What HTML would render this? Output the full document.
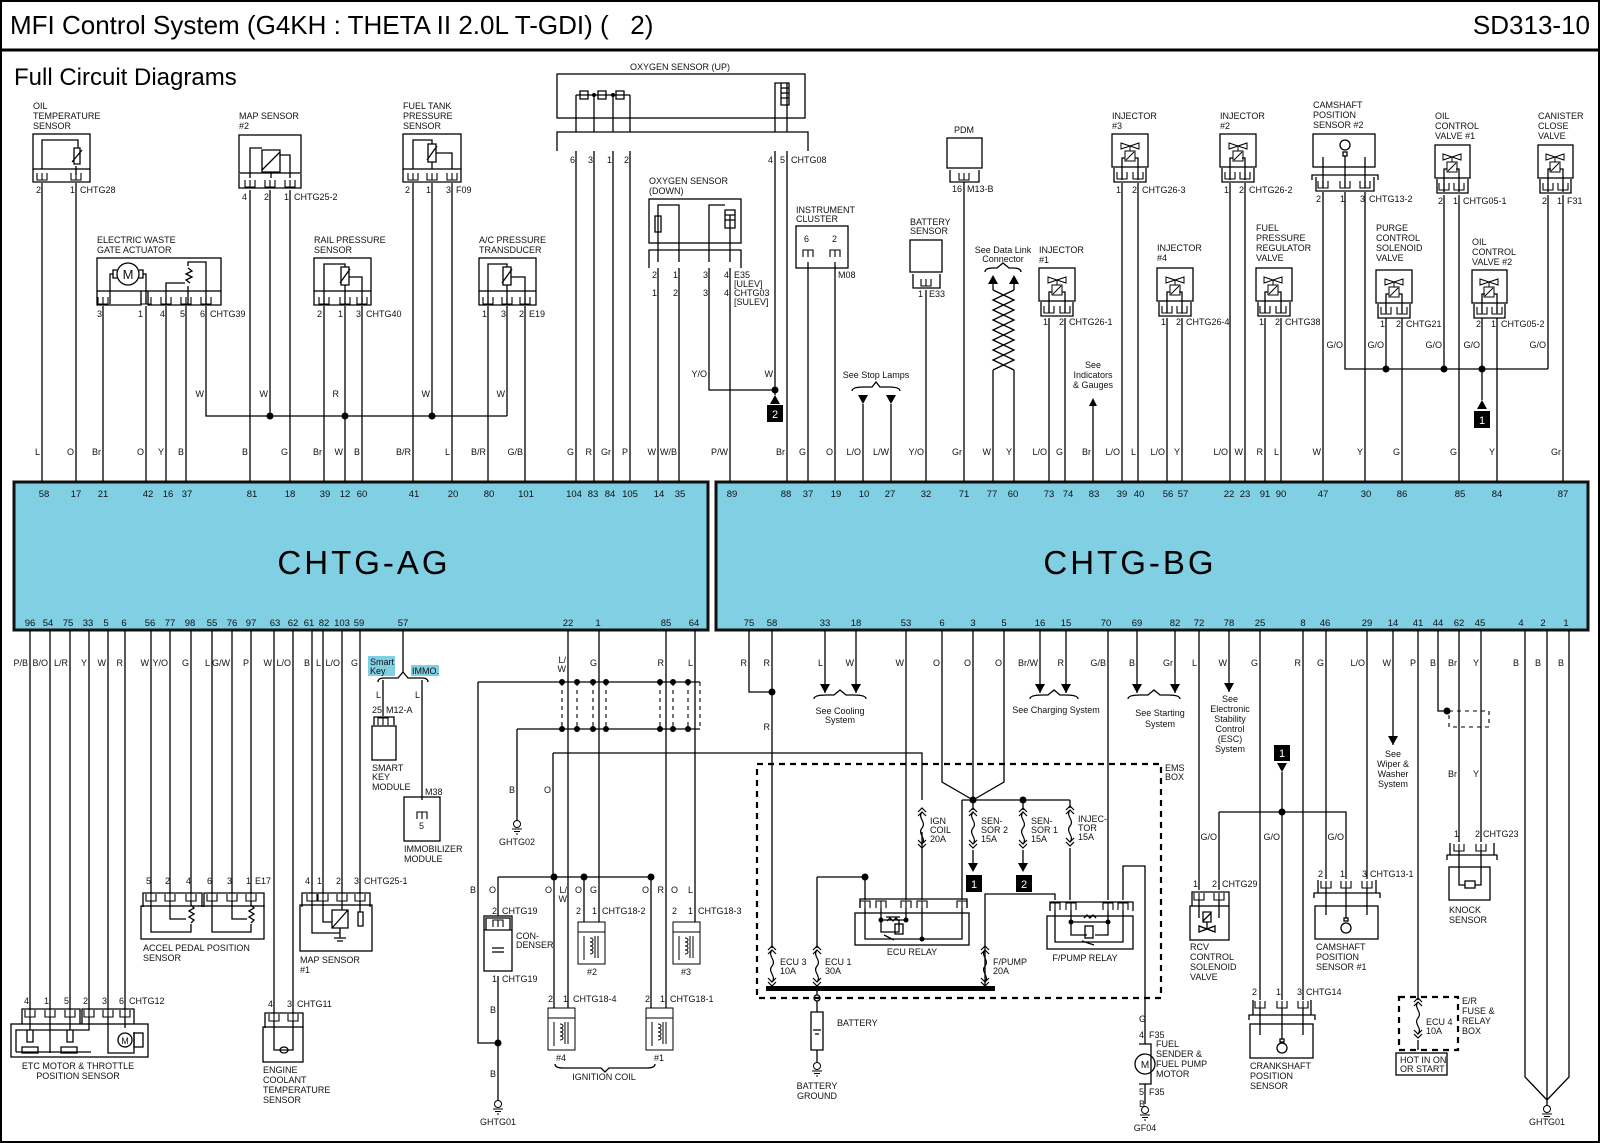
<!DOCTYPE html>
<html><head><meta charset="utf-8">
<style>
html,body{margin:0;padding:0;background:#fff;}
svg{display:block;font-family:"Liberation Sans",sans-serif;}
.w{stroke:#000;stroke-width:1.3;fill:none;}
.t{font-size:9px;fill:#111;}
.l{font-size:9.5px;fill:#111;}
.d{stroke:#000;stroke-width:2.2;fill:none;stroke-dasharray:6 5;}
.ds{stroke:#000;stroke-width:1.1;fill:none;stroke-dasharray:4 4;}
</style></head><body>
<svg width="1600" height="1143" viewBox="0 0 1600 1143" xmlns="http://www.w3.org/2000/svg">
<defs>
<symbol id="p" overflow="visible"><path d="M-5 0v7h10v-7M0 7v-7" stroke="#000" stroke-width="1.1" fill="none"/></symbol>
<symbol id="pu" overflow="visible"><path d="M-5 7v-7h10v7M0 0v7" stroke="#000" stroke-width="1.1" fill="none"/></symbol>
<symbol id="v" overflow="visible"><path d="M-9 -8l18 6v-6l-18 6z" stroke="#000" stroke-width="1" fill="none"/><path d="M0 -5v5" stroke="#000" fill="none"/><rect x="-5" y="0" width="10" height="10" stroke="#000" fill="none"/><path d="M-4 9l8-8" stroke="#000"/></symbol>
<symbol id="g" overflow="visible"><circle cx="0" cy="0" r="3.5" stroke="#000" fill="none"/><path d="M-5 5h10M-3 7.5h6M-1 10h2" stroke="#000"/></symbol>
<symbol id="f" overflow="visible"><path d="M-4 0l4-4 4 4M-4 4l4-4 4 4M0 0c-5 6 5 10 0 16c-5 6 5 10 0 16M-4 28l4 4 4-4M-4 32l4 4 4-4" stroke="#000" stroke-width="1.2" fill="none"/></symbol>
<symbol id="coil" overflow="visible"><rect x="0" y="0" width="27" height="42" stroke="#000" fill="none"/><path d="M0 10h27M6 14v24M12 16c4 0 4 4 0 4c4 0 4 4 0 4c4 0 4 4 0 4c4 0 4 4 0 4M17 14v22M20 14v22" stroke="#000" fill="none"/></symbol>
</defs>
<rect x="1" y="1" width="1598" height="1141" fill="none" stroke="#000" stroke-width="2"/>
<line x1="0" y1="50" x2="1600" y2="50" stroke="#000" stroke-width="3"/>
<text x="10" y="34" font-size="26">MFI Control System (G4KH : THETA II 2.0L T-GDI) (&#160;&#160;&#160;2)</text>
<text x="1590" y="34" font-size="26" text-anchor="end">SD313-10</text>
<text x="14" y="85" font-size="24">Full Circuit Diagrams</text>

<rect x="14" y="482" width="694" height="148" fill="#80cfe3" stroke="#111" stroke-width="3"/>
<rect x="716" y="482" width="872" height="148" fill="#80cfe3" stroke="#111" stroke-width="3"/>
<text x="364" y="574" font-size="33" text-anchor="middle" letter-spacing="3">CHTG-AG</text>
<text x="1130" y="574" font-size="33" text-anchor="middle" letter-spacing="3">CHTG-BG</text>

<g class="l" text-anchor="middle" font-size="10">
<text x="44" y="497">58</text><text x="76" y="497">17</text><text x="103" y="497">21</text><text x="148" y="497">42</text><text x="168" y="497">16</text><text x="187" y="497">37</text><text x="252" y="497">81</text><text x="290" y="497">18</text><text x="325" y="497">39</text><text x="345" y="497">12</text><text x="362" y="497">60</text><text x="414" y="497">41</text><text x="453" y="497">20</text><text x="489" y="497">80</text><text x="526" y="497">101</text><text x="574" y="497">104</text><text x="593" y="497">83</text><text x="610" y="497">84</text><text x="630" y="497">105</text><text x="659" y="497">14</text><text x="680" y="497">35</text>
<text x="732" y="497">89</text><text x="786" y="497">88</text><text x="808" y="497">37</text><text x="836" y="497">19</text><text x="864" y="497">10</text><text x="890" y="497">27</text><text x="926" y="497">32</text><text x="964" y="497">71</text><text x="992" y="497">77</text><text x="1013" y="497">60</text><text x="1049" y="497">73</text><text x="1068" y="497">74</text><text x="1094" y="497">83</text><text x="1122" y="497">39</text><text x="1139" y="497">40</text><text x="1168" y="497">56</text><text x="1183" y="497">57</text><text x="1229" y="497">22</text><text x="1245" y="497">23</text><text x="1265" y="497">91</text><text x="1281" y="497">90</text><text x="1323" y="497">47</text><text x="1366" y="497">30</text><text x="1402" y="497">86</text><text x="1460" y="497">85</text><text x="1497" y="497">84</text><text x="1563" y="497">87</text>
</g>
<g class="l" text-anchor="middle" font-size="10">
<text x="30" y="626">96</text><text x="48" y="626">54</text><text x="68" y="626">75</text><text x="88" y="626">33</text><text x="106" y="626">5</text><text x="124" y="626">6</text><text x="150" y="626">56</text><text x="170" y="626">77</text><text x="190" y="626">98</text><text x="212" y="626">55</text><text x="232" y="626">76</text><text x="251" y="626">97</text><text x="275" y="626">63</text><text x="293" y="626">62</text><text x="309" y="626">61</text><text x="324" y="626">82</text><text x="342" y="626">103</text><text x="359" y="626">59</text><text x="403" y="626">57</text><text x="568" y="626">22</text><text x="598" y="626">1</text><text x="666" y="626">85</text><text x="694" y="626">64</text>
<text x="749" y="626">75</text><text x="772" y="626">58</text><text x="825" y="626">33</text><text x="856" y="626">18</text><text x="906" y="626">53</text><text x="942" y="626">6</text><text x="973" y="626">3</text><text x="1004" y="626">5</text><text x="1040" y="626">16</text><text x="1066" y="626">15</text><text x="1106" y="626">70</text><text x="1137" y="626">69</text><text x="1175" y="626">82</text><text x="1199" y="626">72</text><text x="1229" y="626">78</text><text x="1260" y="626">25</text><text x="1303" y="626">8</text><text x="1325" y="626">46</text><text x="1367" y="626">29</text><text x="1393" y="626">14</text><text x="1418" y="626">41</text><text x="1438" y="626">44</text><text x="1459" y="626">62</text><text x="1480" y="626">45</text><text x="1521" y="626">4</text><text x="1543" y="626">2</text><text x="1566" y="626">1</text>
</g>

<path class="w" d="M42 183V482M76 183V482M103 306V482M146 306V482M166 306V482M186 306V482M206 306V416H507M250 190V482M270 190V416M290 190V482M324 306V482M345 306V482M362 306V482M413 183V482M432 183V416M452 183V482M488 306V482M507 306V416M525 306V482
M576 151V482M594 151V482M613 151V482M630 151V482M658 268V482M679 268V482M709 268V390H775M730 268V482M775 151V395M787 151V482
M808 262V482M835 262V482M863 404V482M891 404V482M926 290V482M964 182V482M993 375V482M1014 375V482M993 284V290M1014 284V290M1049 318V482M1065 318V482M1093 400V482M1122 183V482M1138 183V482M1167 318V482M1182 318V482M1230 183V482M1245 183V482M1265 318V482M1281 318V482M1323 192V482M1345 192V369H1548M1365 192V482M1386 318V369M1402 318V482M1444 195V369M1459 195V482M1482 318V400M1497 318V482M1548 195V369M1563 195V482"/>
<g fill="#000"><circle cx="270" cy="416" r="3.5"/><circle cx="345" cy="416" r="3.5"/><circle cx="432" cy="416" r="3.5"/><circle cx="775" cy="390" r="3.5"/><circle cx="1386" cy="369" r="3.5"/><circle cx="1444" cy="369" r="3.5"/><circle cx="1482" cy="369" r="3.5"/>
<path d="M775 395l-5 9h10z"/><rect x="767" y="405" width="16" height="17"/><path d="M1482 400l-5 9h10z"/><rect x="1474" y="411" width="16" height="17"/>
<path d="M863 404l-5-9h10zM891 404l-5-9h10zM993 275l-5 9h10zM1014 275l-5 9h10zM1093 398l-4 8h8z"/></g>
<text x="775" y="418" font-size="11" fill="#fff" text-anchor="middle">2</text>
<text x="1482" y="424" font-size="11" fill="#fff" text-anchor="middle">1</text>

<g class="t" text-anchor="end">
<text x="40" y="455">L</text><text x="74" y="455">O</text><text x="101" y="455">Br</text><text x="144" y="455">O</text><text x="164" y="455">Y</text><text x="184" y="455">B</text><text x="248" y="455">B</text><text x="288" y="455">G</text><text x="322" y="455">Br</text><text x="343" y="455">W</text><text x="360" y="455">B</text><text x="411" y="455">B/R</text><text x="450" y="455">L</text><text x="486" y="455">B/R</text><text x="523" y="455">G/B</text>
<text x="204" y="397">W</text><text x="268" y="397">W</text><text x="339" y="397">R</text><text x="430" y="397">W</text><text x="505" y="397">W</text>
<text x="574" y="455">G</text><text x="592" y="455">R</text><text x="611" y="455">Gr</text><text x="628" y="455">P</text><text x="656" y="455">W</text><text x="677" y="455">W/B</text><text x="728" y="455">P/W</text><text x="785" y="455">Br</text><text x="806" y="455">G</text><text x="833" y="455">O</text><text x="861" y="455">L/O</text><text x="889" y="455">L/W</text><text x="924" y="455">Y/O</text><text x="962" y="455">Gr</text><text x="991" y="455">W</text><text x="1012" y="455">Y</text><text x="1047" y="455">L/O</text><text x="1063" y="455">G</text><text x="1091" y="455">Br</text><text x="1120" y="455">L/O</text><text x="1136" y="455">L</text><text x="1165" y="455">L/O</text><text x="1180" y="455">Y</text><text x="1228" y="455">L/O</text><text x="1243" y="455">W</text><text x="1263" y="455">R</text><text x="1279" y="455">L</text><text x="1321" y="455">W</text><text x="1363" y="455">Y</text><text x="1400" y="455">G</text><text x="1457" y="455">G</text><text x="1495" y="455">Y</text><text x="1561" y="455">Gr</text>
<text x="707" y="377">Y/O</text><text x="773" y="377">W</text>
<text x="1343" y="348">G/O</text><text x="1384" y="348">G/O</text><text x="1442" y="348">G/O</text><text x="1480" y="348">G/O</text><text x="1546" y="348">G/O</text>
</g>

<g class="t">
<text x="33" y="109">OIL</text><text x="33" y="119">TEMPERATURE</text><text x="33" y="129">SENSOR</text>
<rect class="w" x="33" y="134" width="57" height="35"/><path class="w" d="M42 169V140H78V148M76 175V166M74 148h6v16h-6zM72 162l10-12M33 169v13h57v-13"/>
<use href="#p" x="42" y="173"/><use href="#p" x="76" y="173"/>
<text x="36" y="193">2</text><text x="70" y="193">1</text><text x="80" y="193">CHTG28</text>
<text x="239" y="119">MAP SENSOR</text><text x="239" y="129">#2</text>
<rect class="w" x="239" y="135" width="62" height="38"/><path class="w" d="M250 178V148H262M262 150h18v22h-18zM262 170l18-18M280 155h10v23M271 172v6M239 174v14h62v-14"/>
<use href="#p" x="250" y="180"/><use href="#p" x="270" y="180"/><use href="#p" x="290" y="180"/>
<text x="242" y="200">4</text><text x="264" y="200">2</text><text x="284" y="200">1</text><text x="294" y="200">CHTG25-2</text>
<text x="403" y="109">FUEL TANK</text><text x="403" y="119">PRESSURE</text><text x="403" y="129">SENSOR</text>
<rect class="w" x="403" y="134" width="58" height="35"/><path class="w" d="M413 169V140H432V144M428 144h8v18h-8zM427 160l10-14M436 153h16v16M432 162v7M403 169v13h58v-13"/>
<use href="#p" x="413" y="173"/><use href="#p" x="432" y="173"/><use href="#p" x="452" y="173"/>
<text x="405" y="193">2</text><text x="426" y="193">1</text><text x="446" y="193">3</text><text x="456" y="193">F09</text>
<text x="97" y="243">ELECTRIC WASTE</text><text x="97" y="253">GATE ACTUATOR</text>
<rect class="w" x="97" y="258" width="124" height="33"/><circle class="w" cx="128" cy="274" r="11"/><text x="128" y="279" font-size="13" text-anchor="middle">M</text>
<path class="w" d="M117 270h-4v8h4M139 270h4v8h-4M113 274H110V304M143 274H146V304M166 304V283H185M188 268l4 3-6 3 6 3-6 3 4 3M188 266V262H206V304M188 286v18M97 291v14h44v-14M148 291v14h73v-14"/>
<use href="#p" x="103" y="297"/><use href="#p" x="146" y="297"/><use href="#p" x="166" y="297"/><use href="#p" x="186" y="297"/><use href="#p" x="206" y="297"/>
<text x="97" y="317">3</text><text x="138" y="317">1</text><text x="160" y="317">4</text><text x="180" y="317">5</text><text x="200" y="317">6</text><text x="210" y="317">CHTG39</text>
<text x="314" y="243">RAIL PRESSURE</text><text x="314" y="253">SENSOR</text>
<rect class="w" x="314" y="258" width="57" height="33"/><path class="w" d="M324 304V264H345V267M341 267h8v18h-8zM340 283l10-14M349 277h13v27M345 285v19M314 291v14h57v-14"/>
<use href="#p" x="324" y="297"/><use href="#p" x="345" y="297"/><use href="#p" x="362" y="297"/>
<text x="317" y="317">2</text><text x="338" y="317">1</text><text x="356" y="317">3</text><text x="366" y="317">CHTG40</text>
<text x="479" y="243">A/C PRESSURE</text><text x="479" y="253">TRANSDUCER</text>
<rect class="w" x="479" y="258" width="57" height="33"/><path class="w" d="M488 304V264H507V267M503 267h8v18h-8zM502 283l10-14M511 277h14v27M507 285v19M479 291v14h57v-14"/>
<use href="#p" x="488" y="297"/><use href="#p" x="507" y="297"/><use href="#p" x="525" y="297"/>
<text x="482" y="317">1</text><text x="501" y="317">3</text><text x="519" y="317">2</text><text x="529" y="317">E19</text>
<text x="680" y="70" text-anchor="middle">OXYGEN SENSOR (UP)</text>
<rect class="w" x="557" y="74" width="248" height="44"/>
<path class="w" d="M576 132V95M594 132V95M613 132V95M630 132V95M576 95h54M580 91h8v8h-8zM598 91h8v8h-8zM616 91h8v8h-8zM775 132V83H781M787 132V83M781 83h8v22h-8zM781 88h8M781 93h8M781 98h8M557 151V132h251v19"/>
<g fill="#000"><circle cx="594" cy="95" r="2"/><circle cx="613" cy="95" r="2"/></g>
<text x="570" y="163">6</text><text x="588" y="163">3</text><text x="607" y="163">1</text><text x="624" y="163">2</text><text x="768" y="163">4</text><text x="780" y="163">5</text><text x="791" y="163">CHTG08</text>
<text x="649" y="184">OXYGEN SENSOR</text><text x="649" y="194">(DOWN)</text>
<rect class="w" x="649" y="199" width="92" height="44"/><path class="w" d="M658 262V205H679V262M655 216h6v16h-6zM709 262V205H725M730 262V215M725 210h10v18h-10zM725 215h10M725 220h10M649 268V250h92v18"/>
<text x="652" y="278">2</text><text x="673" y="278">1</text><text x="703" y="278">3</text><text x="724" y="278">4</text><text x="734" y="278">E35</text><text x="734" y="287">[ULEV]</text>
<text x="652" y="296">1</text><text x="673" y="296">2</text><text x="703" y="296">3</text><text x="724" y="296">4</text><text x="734" y="296">CHTG03</text><text x="734" y="305">[SULEV]</text>
<text x="796" y="213">INSTRUMENT</text><text x="796" y="222">CLUSTER</text>
<rect class="w" x="796" y="226" width="52" height="42"/><text x="804" y="242">6</text><text x="832" y="242">2</text>
<use href="#pu" x="808" y="250"/><use href="#pu" x="835" y="250"/><text x="838" y="278">M08</text>
<text x="876" y="378" text-anchor="middle">See Stop Lamps</text><path class="w" d="M852 391q0-4 12-4h8l4-5 4 5h8q12 0 12 4"/>
<text x="910" y="225">BATTERY</text><text x="910" y="234">SENSOR</text>
<rect class="w" x="910" y="240" width="32" height="32"/><path class="w" d="M913 274v14h27v-14"/><use href="#p" x="926" y="279"/><text x="918" y="297">1</text><text x="929" y="297">E33</text>
<text x="964" y="133" text-anchor="middle">PDM</text>
<rect class="w" x="947" y="138" width="35" height="30"/><path class="w" d="M950 170v12h29v-12"/><use href="#p" x="964" y="173"/><text x="952" y="192">16</text><text x="967" y="192">M13-B</text>
<text x="1003" y="253" text-anchor="middle">See Data Link</text><text x="1003" y="262" text-anchor="middle">Connector</text>
<path class="w" d="M985 272q0-4 8-4h4l6-5 6 5h4q8 0 8 4"/>
<path class="w" d="M993 290l21 10-21 10 21 10-21 10 21 10-21 10 21 10-21 10 0 0M1014 290l-21 10 21 10-21 10 21 10-21 10 21 10-21 10 21 10M993 370v5M1014 370v5"/>
<text x="1093" y="368" text-anchor="middle">See</text><text x="1093" y="378" text-anchor="middle">Indicators</text><text x="1093" y="388" text-anchor="middle">&amp; Gauges</text>
</g>

<g class="t">
<text x="1039" y="253">INJECTOR</text><text x="1039" y="263">#1</text>
<rect class="w" x="1039" y="268" width="36" height="33"/><use href="#v" x="1057" y="285"/><path class="w" d="M1049 313V292H1052M1065 313V292H1062M1041 302v14h32v-14"/><use href="#p" x="1049" y="306"/><use href="#p" x="1065" y="306"/>
<text x="1043" y="325">1</text><text x="1059" y="325">2</text><text x="1069" y="325">CHTG26-1</text>
<text x="1112" y="119">INJECTOR</text><text x="1112" y="129">#3</text>
<rect class="w" x="1112" y="134" width="36" height="33"/><use href="#v" x="1130" y="151"/><path class="w" d="M1122 180V158H1125M1138 180V158H1135M1114 168v14h32v-14"/><use href="#p" x="1122" y="172"/><use href="#p" x="1138" y="172"/>
<text x="1116" y="193">1</text><text x="1132" y="193">2</text><text x="1142" y="193">CHTG26-3</text>
<text x="1220" y="119">INJECTOR</text><text x="1220" y="129">#2</text>
<rect class="w" x="1220" y="134" width="36" height="33"/><use href="#v" x="1238" y="151"/><path class="w" d="M1230 180V158H1233M1245 180V158H1242M1222 168v14h32v-14"/><use href="#p" x="1230" y="172"/><use href="#p" x="1245" y="172"/>
<text x="1224" y="193">1</text><text x="1239" y="193">2</text><text x="1249" y="193">CHTG26-2</text>
<text x="1157" y="251">INJECTOR</text><text x="1157" y="261">#4</text>
<rect class="w" x="1157" y="268" width="36" height="33"/><use href="#v" x="1175" y="285"/><path class="w" d="M1167 313V292H1170M1182 313V292H1179M1159 302v14h32v-14"/><use href="#p" x="1167" y="306"/><use href="#p" x="1182" y="306"/>
<text x="1161" y="325">1</text><text x="1176" y="325">2</text><text x="1186" y="325">CHTG26-4</text>
<text x="1256" y="231">FUEL</text><text x="1256" y="241">PRESSURE</text><text x="1256" y="251">REGULATOR</text><text x="1256" y="261">VALVE</text>
<rect class="w" x="1256" y="268" width="36" height="33"/><use href="#v" x="1273" y="285"/><path class="w" d="M1265 313V292H1268M1281 313V292H1278M1258 302v14h32v-14"/><use href="#p" x="1265" y="306"/><use href="#p" x="1281" y="306"/>
<text x="1259" y="325">1</text><text x="1275" y="325">2</text><text x="1285" y="325">CHTG38</text>
<text x="1313" y="108">CAMSHAFT</text><text x="1313" y="118">POSITION</text><text x="1313" y="128">SENSOR #2</text>
<rect class="w" x="1313" y="134" width="62" height="33"/><circle class="w" cx="1345" cy="145" r="5"/><rect class="w" x="1343" y="152" width="4" height="4"/><path class="w" d="M1323 188V157M1345 188V156M1365 188V157M1312 180V175h66v5M1316 177v14h58v-14"/><use href="#p" x="1323" y="181"/><use href="#p" x="1345" y="181"/><use href="#p" x="1365" y="181"/>
<text x="1316" y="202">2</text><text x="1340" y="202">1</text><text x="1360" y="202">3</text><text x="1369" y="202">CHTG13-2</text>
<text x="1376" y="231">PURGE</text><text x="1376" y="241">CONTROL</text><text x="1376" y="251">SOLENOID</text><text x="1376" y="261">VALVE</text>
<rect class="w" x="1376" y="270" width="36" height="33"/><use href="#v" x="1394" y="287"/><path class="w" d="M1386 313V294H1389M1402 313V294H1399M1378 304v14h32v-14"/><use href="#p" x="1386" y="307"/><use href="#p" x="1402" y="307"/>
<text x="1380" y="327">1</text><text x="1396" y="327">2</text><text x="1406" y="327">CHTG21</text>
<text x="1435" y="119">OIL</text><text x="1435" y="129">CONTROL</text><text x="1435" y="139">VALVE #1</text>
<rect class="w" x="1435" y="145" width="35" height="33"/><use href="#v" x="1452" y="162"/><path class="w" d="M1444 192V169H1447M1459 192V169H1456M1437 179v14h31v-14"/><use href="#p" x="1444" y="183"/><use href="#p" x="1459" y="183"/>
<text x="1438" y="204">2</text><text x="1453" y="204">1</text><text x="1463" y="204">CHTG05-1</text>
<text x="1472" y="245">OIL</text><text x="1472" y="255">CONTROL</text><text x="1472" y="265">VALVE #2</text>
<rect class="w" x="1472" y="270" width="35" height="33"/><use href="#v" x="1489" y="287"/><path class="w" d="M1482 313V294H1485M1497 313V294H1494M1474 304v14h31v-14"/><use href="#p" x="1482" y="307"/><use href="#p" x="1497" y="307"/>
<text x="1476" y="327">2</text><text x="1491" y="327">1</text><text x="1501" y="327">CHTG05-2</text>
<text x="1538" y="119">CANISTER</text><text x="1538" y="129">CLOSE</text><text x="1538" y="139">VALVE</text>
<rect class="w" x="1538" y="145" width="35" height="33"/><use href="#v" x="1555" y="162"/><path class="w" d="M1548 192V169H1551M1563 192V169H1560M1540 179v14h31v-14"/><use href="#p" x="1548" y="183"/><use href="#p" x="1563" y="183"/>
<text x="1542" y="204">2</text><text x="1557" y="204">1</text><text x="1567" y="204">F31</text>
</g>

<path class="w" d="M30 630V1010M50 630V1010M70 630V1010M89 630V1010M108 630V1010M125 630V1010M151 630V894M170 630V894M191 630V894M212 630V894M232 630V894M251 630V894M274 630V1014M293 630V1014M312 630V894M323 630V894M342 630V894M360 630V894
M403 630V672M383 680V716M422 680V800M568 630V1008M599 630V922M666 630V1008M695 630V922
M478 682H700M517 729H700M517 729V820M553 753H922V800M553 753V877M478 682V1043H498M498 877H651M498 877V916M498 976V1100M584 877V922M554 877V1008M651 877V1008
M749 630V692H772M772 630V948M825 630V693M856 630V693M906 630V900M942 630V782L973 800M973 630V810M1004 630V782L973 800M962 800H1070M962 800V900M1023 800V810M1070 800V808M1070 848V900M973 850V865M1023 850V865M922 832V900M817 877H865V900M817 877V948M817 985V995M985 985V948M985 948V894H1055V900M1040 630V693M1066 630V693M1108 630V900M1123 900V866H1145V1040M1137 630V693M1175 630V693
M1199 630V890M1229 630V692M1260 630V1000M1303 630V1000M1326 630V879M1367 630V879M1393 630V745M1418 630V1000M1418 1040V1050M1438 630V711H1447M1459 630V842M1481 630V842M1282 772V1000M1219 812H1346V879M1219 812V890
M1525 630V1077L1547 1100M1569 630V1077L1547 1100M1547 630V1100"/>
<path class="w" d="M1547 1100v6"/><use href="#g" x="1547" y="1109"/>
<rect x="766" y="986" width="229" height="5" fill="#000"/>
<g fill="#000">
<circle cx="772" cy="692" r="3.5"/><circle cx="865" cy="877" r="3.5"/><circle cx="973" cy="800" r="3.5"/><circle cx="1023" cy="800" r="3.5"/><circle cx="1282" cy="812" r="3.5"/><circle cx="1447" cy="711" r="3.5"/><circle cx="498" cy="1043" r="3.5"/><circle cx="554" cy="877" r="3.5"/><circle cx="584" cy="877" r="3.5"/><circle cx="651" cy="877" r="3.5"/>
<circle cx="562" cy="682" r="3"/><circle cx="577" cy="682" r="3"/><circle cx="593" cy="682" r="3"/><circle cx="606" cy="682" r="3"/><circle cx="660" cy="682" r="3"/><circle cx="673" cy="682" r="3"/><circle cx="688" cy="682" r="3"/>
<circle cx="562" cy="729" r="3"/><circle cx="577" cy="729" r="3"/><circle cx="593" cy="729" r="3"/><circle cx="606" cy="729" r="3"/><circle cx="660" cy="729" r="3"/><circle cx="673" cy="729" r="3"/><circle cx="688" cy="729" r="3"/>
<path d="M825 693l-5-9h10zM856 693l-5-9h10zM1040 693l-5-9h10zM1066 693l-5-9h10zM1137 693l-5-9h10zM1175 693l-5-9h10zM1229 692l-5-9h10zM1393 745l-5-9h10zM973 872l-5-9h10zM1023 872l-5-9h10zM1282 772l-5-9h10z"/>
<rect x="966" y="875" width="16" height="17"/><rect x="1016" y="875" width="16" height="17"/><rect x="1274" y="745" width="16" height="16"/>
</g>
<text x="974" y="888" font-size="11" fill="#fff" text-anchor="middle">1</text>
<text x="1024" y="888" font-size="11" fill="#fff" text-anchor="middle">2</text>
<text x="1282" y="757" font-size="11" fill="#fff" text-anchor="middle">1</text>
<path class="ds" d="M562 682V729M577 682V729M593 682V729M606 682V729M660 682V729M673 682V729M688 682V729M700 682V729M1449 711h40v16h-40z"/>

<g class="t" text-anchor="end">
<text x="28" y="666">P/B</text><text x="48" y="666">B/O</text><text x="68" y="666">L/R</text><text x="87" y="666">Y</text><text x="106" y="666">W</text><text x="123" y="666">R</text><text x="149" y="666">W</text><text x="168" y="666">Y/O</text><text x="189" y="666">G</text><text x="210" y="666">L</text><text x="230" y="666">G/W</text><text x="249" y="666">P</text><text x="272" y="666">W</text><text x="291" y="666">L/O</text><text x="310" y="666">B</text><text x="321" y="666">L</text><text x="340" y="666">L/O</text><text x="358" y="666">G</text>
<text x="566" y="663">L/</text><text x="566" y="672">W</text><text x="597" y="666">G</text><text x="664" y="666">R</text><text x="693" y="666">L</text>
<text x="747" y="666">R</text><text x="770" y="666">R</text><text x="770" y="730">R</text><text x="823" y="666">L</text><text x="854" y="666">W</text><text x="904" y="666">W</text><text x="940" y="666">O</text><text x="971" y="666">O</text><text x="1002" y="666">O</text><text x="1038" y="666">Br/W</text><text x="1064" y="666">R</text><text x="1106" y="666">G/B</text><text x="1135" y="666">B</text><text x="1173" y="666">Gr</text><text x="1197" y="666">L</text><text x="1227" y="666">W</text><text x="1258" y="666">G</text><text x="1301" y="666">R</text><text x="1324" y="666">G</text><text x="1365" y="666">L/O</text><text x="1391" y="666">W</text><text x="1416" y="666">P</text><text x="1436" y="666">B</text><text x="1457" y="666">Br</text><text x="1479" y="666">Y</text><text x="1519" y="666">B</text><text x="1541" y="666">B</text><text x="1564" y="666">B</text>
<text x="1457" y="777">Br</text><text x="1479" y="777">Y</text>
<text x="1217" y="840">G/O</text><text x="1280" y="840">G/O</text><text x="1344" y="840">G/O</text>
<text x="515" y="793">B</text><text x="551" y="793">O</text>
<text x="476" y="893">B</text><text x="496" y="893">O</text><text x="552" y="893">O</text><text x="567" y="893">L/</text><text x="567" y="902">W</text><text x="582" y="893">O</text><text x="597" y="893">G</text><text x="649" y="893">O</text><text x="664" y="893">R</text><text x="678" y="893">O</text><text x="693" y="893">L</text>
<text x="496" y="1013">B</text><text x="496" y="1077">B</text>
<text x="381" y="698">L</text><text x="420" y="698">L</text>
</g>

<g class="t" text-anchor="middle">
<path class="w" d="M814 699q0-4 12-4h8l6-5 6 5h8q12 0 12 4M1030 699q0-4 12-4h6l6-5 6 5h6q12 0 12 4M1128 699q0-4 12-4h8l6-5 6 5h8q12 0 12 4"/>
<text x="840" y="714">See Cooling</text><text x="840" y="723">System</text>
<text x="1056" y="713">See Charging System</text>
<text x="1160" y="716">See Starting</text><text x="1160" y="727">System</text>
<text x="1230" y="702">See</text><text x="1230" y="712">Electronic</text><text x="1230" y="722">Stability</text><text x="1230" y="732">Control</text><text x="1230" y="742">(ESC)</text><text x="1230" y="752">System</text>
<text x="1393" y="757">See</text><text x="1393" y="767">Wiper &amp;</text><text x="1393" y="777">Washer</text><text x="1393" y="787">System</text>
</g>

<rect x="368" y="656" width="27" height="20" fill="#80cfe3"/><rect x="411" y="665" width="28" height="11" fill="#80cfe3"/>
<g class="t"><text x="370" y="665">Smart</text><text x="370" y="674">Key</text><text x="412" y="674">IMMO.</text>
<path class="w" d="M378 682q0-4 6-4h14l5-6 5 6h14q6 0 6 4"/>
<text x="372" y="713">25</text><text x="386" y="713">M12-A</text>
<path class="w" d="M374 725v-8h20v8"/><use href="#pu" x="383" y="718"/>
<rect class="w" x="372" y="726" width="24" height="34"/>
<text x="372" y="771">SMART</text><text x="372" y="780">KEY</text><text x="372" y="790">MODULE</text>
<text x="425" y="795">M38</text><rect class="w" x="404" y="797" width="36" height="44"/><use href="#pu" x="422" y="812"/><text x="419" y="829">5</text>
<text x="404" y="852">IMMOBILIZER</text><text x="404" y="862">MODULE</text>
<use href="#g" x="517" y="824"/><text x="517" y="845" text-anchor="middle">GHTG02</text>
</g>

<g class="t">
<text x="146" y="884">5</text><text x="165" y="884">2</text><text x="186" y="884">4</text><text x="207" y="884">6</text><text x="227" y="884">3</text><text x="246" y="884">1</text><text x="255" y="884">E17</text>
<path class="w" d="M143 907v-14h59v14M204 907v-14h60v14"/><use href="#p" x="151" y="894"/><use href="#p" x="170" y="894"/><use href="#p" x="191" y="894"/><use href="#p" x="212" y="894"/><use href="#p" x="232" y="894"/><use href="#p" x="251" y="894"/>
<rect class="w" x="141" y="906" width="123" height="33"/>
<path class="w" d="M151 901V932H191V924M170 901V919H186M191 901V905l3 3-5 3 5 3-5 3 5 3-3 3M212 901V932H251V924M232 901V919H247M251 901V905l3 3-5 3 5 3-5 3 5 3-3 3"/>
<text x="143" y="951">ACCEL PEDAL POSITION</text><text x="143" y="961">SENSOR</text>
<text x="305" y="884">4</text><text x="317" y="884">1</text><text x="336" y="884">2</text><text x="354" y="884">3</text><text x="364" y="884">CHTG25-1</text>
<path class="w" d="M302 907v-14h68v14"/><use href="#p" x="312" y="894"/><use href="#p" x="323" y="894"/><use href="#p" x="342" y="894"/><use href="#p" x="360" y="894"/>
<rect class="w" x="300" y="905" width="72" height="46"/>
<path class="w" d="M312 901V933H340V928M323 901V922H332M332 910h16v18h-16zM332 928l16-18M342 901V910M358 912h5v14h-5zM360 901V912M340 928v10M334 938h12M337 941h6"/>
<text x="300" y="963">MAP SENSOR</text><text x="300" y="973">#1</text>
<text x="268" y="1007">4</text><text x="287" y="1007">3</text><text x="297" y="1007">CHTG11</text>
<path class="w" d="M265 1028v-15h38v15"/><use href="#p" x="274" y="1014"/><use href="#p" x="293" y="1014"/>
<rect class="w" x="263" y="1027" width="40" height="35"/><path class="w" d="M274 1021V1050H293V1021M280 1050a4 3 0 1 0 8 0a4 3 0 1 0 -8 0"/>
<text x="263" y="1073">ENGINE</text><text x="263" y="1083">COOLANT</text><text x="263" y="1093">TEMPERATURE</text><text x="263" y="1103">SENSOR</text>
<text x="24" y="1004">4</text><text x="44" y="1004">1</text><text x="64" y="1004">5</text><text x="83" y="1004">2</text><text x="102" y="1004">3</text><text x="119" y="1004">6</text><text x="129" y="1004">CHTG12</text>
<path class="w" d="M22 1024v-15h58v15M82 1024v-15h52v15"/><use href="#p" x="30" y="1010"/><use href="#p" x="50" y="1010"/><use href="#p" x="70" y="1010"/><use href="#p" x="89" y="1010"/><use href="#p" x="108" y="1010"/><use href="#p" x="125" y="1010"/>
<rect class="w" x="11" y="1024" width="137" height="33"/>
<path class="w" d="M30 1017V1030M27 1030h6v12h-6zM70 1017V1030M67 1030h6v12h-6zM16 1052V1030H89V1017M16 1052h75M22 1047h16v6h-16zM61 1047h16v6h-16zM50 1017V1053M108 1017V1053H134V1032M125 1017V1028"/>
<circle class="w" cx="125" cy="1040" r="7"/><text x="125" y="1044" font-size="9" text-anchor="middle">M</text><rect class="w" x="134" y="1033" width="9" height="14"/>
<text x="78" y="1069" text-anchor="middle">ETC MOTOR &amp; THROTTLE</text><text x="78" y="1079" text-anchor="middle">POSITION SENSOR</text>
<text x="492" y="914">2</text><text x="502" y="914">CHTG19</text>
<path class="w" d="M486 930v-12h24v12"/><use href="#pu" x="498" y="920"/>
<rect class="w" x="484" y="916" width="28" height="55"/><path class="w" d="M484 930h28M492 948h12M492 952h12"/>
<text x="516" y="939">CON-</text><text x="516" y="948">DENSER</text>
<text x="492" y="982">1</text><text x="502" y="982">CHTG19</text>
<use href="#g" x="498" y="1104"/><text x="498" y="1125" text-anchor="middle">GHTG01</text>
<text x="576" y="914">2</text><text x="592" y="914">1</text><text x="602" y="914">CHTG18-2</text>
<use href="#coil" x="578" y="922"/><text x="592" y="975" text-anchor="middle">#2</text>
<text x="672" y="914">2</text><text x="688" y="914">1</text><text x="698" y="914">CHTG18-3</text>
<use href="#coil" x="673" y="922"/><text x="686" y="975" text-anchor="middle">#3</text>
<text x="548" y="1002">2</text><text x="563" y="1002">1</text><text x="573" y="1002">CHTG18-4</text>
<use href="#coil" x="548" y="1008"/><text x="561" y="1061" text-anchor="middle">#4</text>
<text x="645" y="1002">2</text><text x="660" y="1002">1</text><text x="670" y="1002">CHTG18-1</text>
<use href="#coil" x="646" y="1008"/><text x="659" y="1061" text-anchor="middle">#1</text>
<path class="w" d="M555 1064q0 4 8 4h38l4 4 4-4h38q8 0 8-4"/>
<text x="604" y="1080" text-anchor="middle">IGNITION COIL</text>
</g>

<rect class="d" x="757" y="764" width="404" height="234"/>
<g class="t">
<text x="1165" y="771">EMS</text><text x="1165" y="780">BOX</text>
<use href="#f" x="922" y="812"/><text x="930" y="824">IGN</text><text x="930" y="833">COIL</text><text x="930" y="842">20A</text>
<use href="#f" x="973" y="812"/><text x="981" y="824">SEN-</text><text x="981" y="833">SOR 2</text><text x="981" y="842">15A</text>
<use href="#f" x="1023" y="812"/><text x="1031" y="824">SEN-</text><text x="1031" y="833">SOR 1</text><text x="1031" y="842">15A</text>
<use href="#f" x="1070" y="810"/><text x="1078" y="822">INJEC-</text><text x="1078" y="831">TOR</text><text x="1078" y="840">15A</text>
<use href="#f" x="772" y="950"/><text x="780" y="965">ECU 3</text><text x="780" y="974">10A</text>
<use href="#f" x="817" y="950"/><text x="825" y="965">ECU 1</text><text x="825" y="974">30A</text>
<use href="#f" x="985" y="950"/><text x="993" y="965">F/PUMP</text><text x="993" y="974">20A</text>
<path class="w" d="M860 908v-9h107v9M1050 911v-9h83v9"/>
<use href="#pu" x="865" y="901"/><use href="#pu" x="881" y="901"/><use href="#pu" x="906" y="901"/><use href="#pu" x="922" y="901"/><use href="#pu" x="962" y="901"/>
<rect class="w" x="855" y="913" width="114" height="32"/>
<path class="w" d="M865 908V939H962V908M881 908V920H906V908M881 920V932H899V920M886 917h14M887 921l3-3 3 3 3-3 3 3M922 908V939M884 935l10 5"/>
<rect class="w" x="895" y="924" width="8" height="10"/>
<g fill="#000"><circle cx="881" cy="920" r="2.5"/><circle cx="906" cy="920" r="2.5"/><circle cx="922" cy="939" r="2.5"/><circle cx="1071" cy="922" r="2.5"/><circle cx="1108" cy="922" r="2.5"/></g>
<text x="912" y="955" text-anchor="middle">ECU RELAY</text>
<use href="#pu" x="1055" y="903"/><use href="#pu" x="1071" y="903"/><use href="#pu" x="1108" y="903"/><use href="#pu" x="1123" y="903"/>
<rect class="w" x="1047" y="916" width="86" height="33"/>
<path class="w" d="M1055 910V942H1123V910M1071 910V922H1108V910M1071 922V935H1087M1108 922V935H1095M1084 918l3-3 3 3 3-3 3 3M1082 941l12 4"/>
<rect class="w" x="1085" y="926" width="8" height="12"/>
<text x="1085" y="961" text-anchor="middle">F/PUMP RELAY</text>
<circle class="w" cx="817" cy="998" r="3"/>
<path class="w" d="M817 1001V1012M817 1050V1062M811 1012h12v38h-12zM813 1030h8M815 1034h4"/>
<use href="#g" x="817" y="1066"/>
<text x="837" y="1026">BATTERY</text>
<text x="817" y="1089" text-anchor="middle">BATTERY</text><text x="817" y="1099" text-anchor="middle">GROUND</text>
<text x="1139" y="1022">G</text><text x="1139" y="1038">4</text><text x="1149" y="1038">F35</text>
<path class="w" d="M1145 1040v4M1145 1084v20M1139 1044h12v40h-12"/>
<circle class="w" cx="1145" cy="1064" r="10"/><text x="1145" y="1068" font-size="10" text-anchor="middle">M</text>
<text x="1156" y="1047">FUEL</text><text x="1156" y="1057">SENDER &amp;</text><text x="1156" y="1067">FUEL PUMP</text><text x="1156" y="1077">MOTOR</text>
<text x="1139" y="1095">5</text><text x="1149" y="1095">F35</text><text x="1139" y="1107">B</text>
<use href="#g" x="1145" y="1110"/><text x="1145" y="1131" text-anchor="middle">GF04</text>
</g>

<g class="t">
<text x="1193" y="887">1</text><text x="1212" y="887">2</text><text x="1222" y="887">CHTG29</text>
<path class="w" d="M1192 906v-14h37v14"/><use href="#p" x="1199" y="893"/><use href="#p" x="1219" y="893"/>
<rect class="w" x="1190" y="906" width="39" height="34"/>
<path class="w" d="M1199 900V918M1219 900V918M1203 912h8v10h-8zM1203 921l8-8M1207 922v6M1199 932l16-6v6l-16-6z"/>
<text x="1190" y="950">RCV</text><text x="1190" y="960">CONTROL</text><text x="1190" y="970">SOLENOID</text><text x="1190" y="980">VALVE</text>
<text x="1318" y="877">2</text><text x="1340" y="877">1</text><text x="1362" y="877">3</text><text x="1370" y="877">CHTG13-1</text>
<path class="w" d="M1314 898v-5h66v5M1318 880v13h58v-13"/><use href="#p" x="1326" y="881"/><use href="#p" x="1346" y="881"/><use href="#p" x="1367" y="881"/>
<rect class="w" x="1315" y="906" width="63" height="33"/>
<path class="w" d="M1326 888V915M1346 888V918M1367 888V915"/><rect class="w" x="1344" y="918" width="4" height="3"/><circle class="w" cx="1346" cy="928" r="5"/>
<text x="1316" y="950">CAMSHAFT</text><text x="1316" y="960">POSITION</text><text x="1316" y="970">SENSOR #1</text>
<text x="1252" y="995">2</text><text x="1276" y="995">1</text><text x="1297" y="995">3</text><text x="1306" y="995">CHTG14</text>
<path class="w" d="M1249 1020v-5h66v5M1253 1000v15h58v-15"/><use href="#p" x="1260" y="1001"/><use href="#p" x="1282" y="1001"/><use href="#p" x="1303" y="1001"/>
<rect class="w" x="1250" y="1024" width="63" height="34"/>
<path class="w" d="M1260 1008V1035M1282 1008V1039M1303 1008V1035"/><rect class="w" x="1280" y="1039" width="4" height="3"/><circle class="w" cx="1282" cy="1048" r="5"/>
<text x="1250" y="1069">CRANKSHAFT</text><text x="1250" y="1079">POSITION</text><text x="1250" y="1089">SENSOR</text>
<text x="1454" y="837">1</text><text x="1475" y="837">2</text><text x="1483" y="837">CHTG23</text>
<path class="w" d="M1447 860v-5h50v5M1450 843v12h44v-12"/><use href="#p" x="1459" y="844"/><use href="#p" x="1481" y="844"/>
<rect class="w" x="1449" y="867" width="41" height="33"/>
<path class="w" d="M1459 851V885H1465M1481 851V885H1475"/><rect class="w" x="1465" y="881" width="10" height="7"/>
<text x="1449" y="913">KNOCK</text><text x="1449" y="923">SENSOR</text>
<rect class="d" x="1399" y="997" width="59" height="53"/>
<use href="#f" x="1418" y="1002"/><text x="1426" y="1025">ECU 4</text><text x="1426" y="1034">10A</text>
<text x="1462" y="1004">E/R</text><text x="1462" y="1014">FUSE &amp;</text><text x="1462" y="1024">RELAY</text><text x="1462" y="1034">BOX</text>
<rect class="w" x="1396" y="1053" width="51" height="22"/><text x="1400" y="1063">HOT IN ON</text><text x="1400" y="1072">OR START</text>
<text x="1547" y="1125" text-anchor="middle">GHTG01</text>
</g>
</svg>
</body></html>
